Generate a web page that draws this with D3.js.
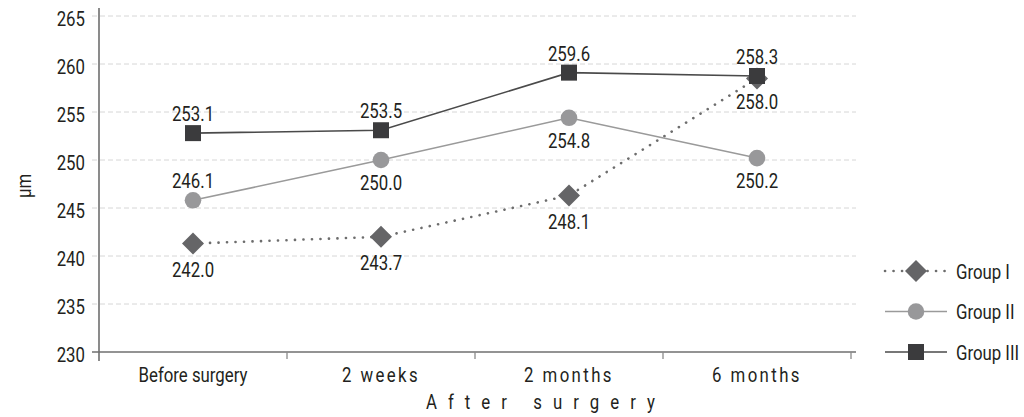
<!DOCTYPE html>
<html lang="en">
<head>
  <meta charset="UTF-8">
  <title>Thickness over time by group</title>
  <script src="https://d3js.org/d3.v7.min.js"></script>
  <style>
    body {
      margin: 0;
      background: #fff;
    }
    svg text {
      font-family: Roboto, 'Noto Sans', sans-serif;
      font-size: 21px;
      fill: #231f20;
    }
  </style>
</head>
<body>
  <div id="chart"></div>
  <script>
    // categories on the x axis
    const categories = ["Before surgery", "2 weeks", "2 months", "6 months"];
    const yTicks = [230, 235, 240, 245, 250, 255, 260, 265];

    // where the markers sit in the picture
    const group1 = [241.3, 242.0, 246.3, 258.5];
    const group2 = [245.8, 250.0, 254.4, 250.2];
    const group3 = [252.8, 253.1, 259.1, 258.75];

    // the numbers printed next to the markers
    const group1Labels = ["242.0", "243.7", "248.1", "258.0"];
    const group2Labels = ["246.1", "250.0", "254.8", "250.2"];
    const group3Labels = ["253.1", "253.5", "259.6", "258.3"];

    const seriesNames = ["Group I", "Group II", "Group III"];

    const width = 1024, height = 417;
    const SX = 0.8; // the original uses a narrow typeface, squeeze Roboto to match

    const svg = d3.select("#chart")
      .append("svg")
      .attr("width", width)
      .attr("height", height);

    // text helper: squeezed horizontally around its anchor point
    function label(parent, px, py, str, anchor) {
      return parent.append("text")
        .attr("transform", `translate(${px},${py}) scale(${SX},1)`)
        .attr("text-anchor", anchor || "middle")
        .text(str);
    }

    const x = d3.scaleBand()
      .domain(categories)
      .range([99, 851])
      .padding(0);

    const y = d3.scaleLinear()
      .domain([230, 265])
      .range([352, 16]);

    const cx = d => x(d) + x.bandwidth() / 2;

    // gridlines
    svg.append("g")
      .selectAll("line")
      .data(yTicks.slice(1))
      .enter()
      .append("line")
      .attr("x1", 92)
      .attr("x2", 856)
      .attr("y1", d => y(d))
      .attr("y2", d => y(d))
      .attr("stroke", "#d6d6d6")
      .attr("stroke-width", 1)
      .attr("stroke-dasharray", "5,3");

    // y axis
    const yAxis = svg.append("g")
      .attr("transform", "translate(99,0)")
      .call(d3.axisLeft(y).tickValues(yTicks).tickSize(0).tickFormat(d3.format("d")));
    yAxis.select(".domain").remove();
    yAxis.selectAll(".tick text")
      .attr("x", 0)
      .attr("dy", 0)
      .attr("transform", `translate(-14,9) scale(${SX},1)`)
      .style("font-size", null);
    yAxis.append("line")
      .attr("y1", 8)
      .attr("y2", 361)
      .attr("stroke", "#6f6f6f")
      .attr("stroke-width", 1.6);

    // x axis
    const xAxis = svg.append("g")
      .attr("transform", "translate(0,352)")
      .call(d3.axisBottom(x).tickSize(0));
    xAxis.select(".domain").remove();
    xAxis.selectAll(".tick text")
      .attr("y", 0)
      .attr("dy", 0)
      .attr("transform", `translate(0,30) scale(${SX},1)`)
      .style("letter-spacing", (d, i) => i === 0 ? null : "3px")
      .style("font-size", null);
    xAxis.append("line")
      .attr("x1", 92)
      .attr("x2", 856)
      .attr("stroke", "#6f6f6f")
      .attr("stroke-width", 1.6);
    xAxis.selectAll(".sep")
      .data(categories)
      .enter()
      .append("line")
      .attr("x1", d => x(d) + x.bandwidth())
      .attr("x2", d => x(d) + x.bandwidth())
      .attr("y1", 0)
      .attr("y2", 7)
      .attr("stroke", "#8a8a8a")
      .attr("stroke-width", 1.3);

    // axis titles
    label(svg, 546, 409, "After surgery")
      .style("letter-spacing", "13.8px");

    svg.append("text")
      .attr("transform", `translate(31,186) rotate(-90) scale(${SX},1)`)
      .attr("text-anchor", "middle")
      .text("μm");

    const line = d3.line()
      .x((d, i) => cx(categories[i]))
      .y(d => y(d));

    const series = [
      { name: seriesNames[0], values: group1, labels: group1Labels, shape: "diamond", fill: "#656567", stroke: "#6d6d6d", dash: "0.1,8.4", width: 2.6, cap: "round", labelDy: [33, 33, 33, 31] },
      { name: seriesNames[1], values: group2, labels: group2Labels, shape: "circle", fill: "#98989a", stroke: "#9a9a9a", dash: null, width: 1.6, cap: "butt", labelDy: [-12, 30, 30, 30] },
      { name: seriesNames[2], values: group3, labels: group3Labels, shape: "square", fill: "#3b3b3d", stroke: "#4a4a4a", dash: null, width: 1.6, cap: "butt", labelDy: [-12, -12, -12, -12] }
    ];

    function drawMarker(g, shape, fill) {
      if (shape === "diamond") {
        g.append("path")
          .attr("d", "M0,-11L11,0L0,11L-11,0Z")
          .attr("fill", fill);
      } else if (shape === "circle") {
        g.append("circle")
          .attr("r", 8.3)
          .attr("fill", fill);
      } else {
        g.append("rect")
          .attr("x", -8)
          .attr("y", -8)
          .attr("width", 16)
          .attr("height", 16)
          .attr("fill", fill);
      }
    }

    // lines first, then markers, then labels
    series.forEach(s => {
      svg.append("path")
        .datum(s.values)
        .attr("d", line)
        .attr("fill", "none")
        .attr("stroke", s.stroke)
        .attr("stroke-width", s.width)
        .attr("stroke-linecap", s.cap)
        .attr("stroke-dasharray", s.dash);
    });

    series.forEach(s => {
      s.values.forEach((v, i) => {
        const g = svg.append("g")
          .attr("transform", `translate(${cx(categories[i])},${y(v)})`);
        drawMarker(g, s.shape, s.fill);
      });
    });

    series.forEach(s => {
      s.values.forEach((v, i) => {
        label(svg, cx(categories[i]), y(v) + s.labelDy[i], s.labels[i]);
      });
    });

    // legend
    const legendY = [271, 311.5, 352];
    series.forEach((s, i) => {
      const g = svg.append("g").attr("transform", `translate(0,${legendY[i]})`);
      g.append("line")
        .attr("x1", 885)
        .attr("x2", 947)
        .attr("stroke", s.stroke)
        .attr("stroke-width", s.width)
        .attr("stroke-linecap", s.cap)
        .attr("stroke-dasharray", s.dash);
      const m = g.append("g").attr("transform", "translate(916,0)");
      drawMarker(m, s.shape, s.fill);
      label(g, 956, 7.5, s.name, "start");
    });
  </script>
</body>
</html>
